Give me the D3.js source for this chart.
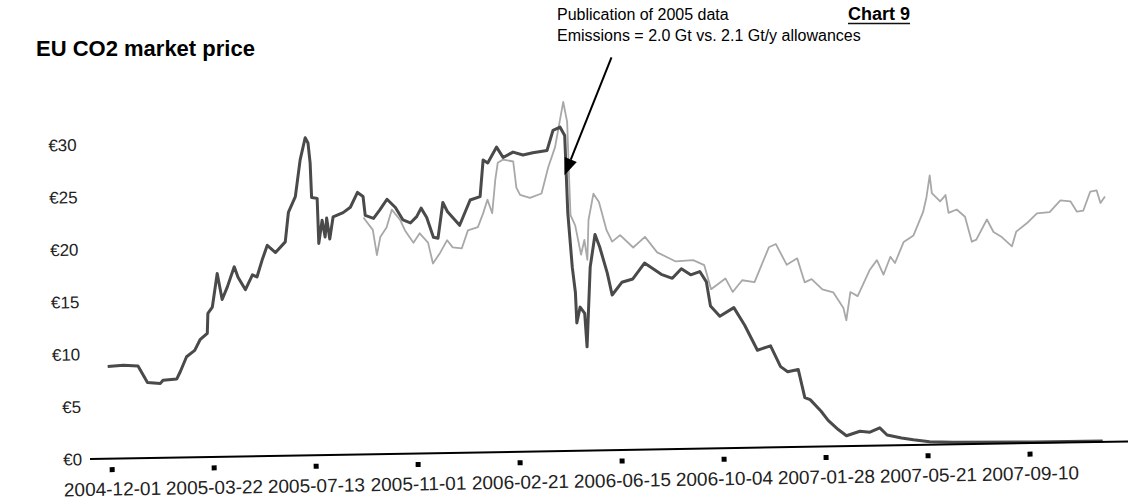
<!DOCTYPE html>
<html>
<head>
<meta charset="utf-8">
<script src="https://cdn.jsdelivr.net/npm/d3@7"></script>
<style>
  body { margin: 0; background: #fff; }
  svg { display: block; font-family: "Liberation Sans", Arial, sans-serif; }
</style>
</head>
<body>
<svg id="chart" width="1128" height="501"></svg>
<script>
'use strict'

// x axis labels (the source axis is one category per trading day, so ticks are evenly spaced)
const tickDates = ['2004-12-01', '2005-03-22', '2005-07-13', '2005-11-01', '2006-02-21',
  '2006-06-15', '2006-10-04', '2007-01-28', '2007-05-21', '2007-09-10']
const yTicks = [0, 5, 10, 15, 20, 25, 30]

// dark line: first-period (2005-07) allowance price, EUR/t
const phase1 = [
  ['2004-11-28', 8.8], ['2004-12-15', 8.9], ['2004-12-31', 8.8], ['2005-01-10', 7.2], ['2005-01-24', 7.1],
  ['2005-01-27', 7.4], ['2005-02-11', 7.5], ['2005-02-15', 8.2], ['2005-02-22', 9.6], ['2005-03-03', 10.2],
  ['2005-03-09', 11.2], ['2005-03-17', 11.8], ['2005-03-18', 13.7], ['2005-03-23', 14.3], ['2005-03-29', 17.5],
  ['2005-04-03', 15.0], ['2005-04-09', 16.2], ['2005-04-17', 18.1], ['2005-04-21', 17.1], ['2005-04-29', 15.9],
  ['2005-05-07', 17.3], ['2005-05-12', 17.1], ['2005-05-18', 18.7], ['2005-05-24', 20.1], ['2005-06-02', 19.4],
  ['2005-06-13', 20.4], ['2005-06-17', 23.2], ['2005-06-25', 24.7], ['2005-07-01', 28.2], ['2005-07-07', 30.3],
  ['2005-07-10', 29.8], ['2005-07-12', 27.9], ['2005-07-13', 24.6], ['2005-07-19', 24.5], ['2005-07-20', 20.2],
  ['2005-07-24', 22.4], ['2005-07-27', 20.8], ['2005-07-29', 22.6], ['2005-08-01', 20.6], ['2005-08-05', 22.7],
  ['2005-08-16', 23.1], ['2005-08-24', 23.6], ['2005-09-01', 25.0], ['2005-09-07', 24.6], ['2005-09-09', 22.8],
  ['2005-09-18', 22.5], ['2005-09-25', 23.3], ['2005-10-03', 24.3], ['2005-10-12', 23.5], ['2005-10-20', 22.3],
  ['2005-10-28', 22.0], ['2005-11-04', 22.6], ['2005-11-09', 23.4], ['2005-11-15', 22.5], ['2005-11-22', 20.6],
  ['2005-11-27', 20.5], ['2005-12-03', 23.9], ['2005-12-08', 23.0], ['2005-12-21', 21.7], ['2006-01-02', 24.1],
  ['2006-01-13', 24.4], ['2006-01-17', 27.9], ['2006-01-22', 27.6], ['2006-02-01', 29.1], ['2006-02-08', 28.1],
  ['2006-02-19', 28.6], ['2006-03-02', 28.3], ['2006-03-13', 28.5], ['2006-03-29', 28.7], ['2006-04-05', 30.6],
  ['2006-04-13', 30.9], ['2006-04-18', 30.1], ['2006-04-20', 22.7], ['2006-04-24', 17.5], ['2006-04-27', 15.1],
  ['2006-04-28', 12.2], ['2006-05-02', 13.7], ['2006-05-07', 13.1], ['2006-05-09', 9.9], ['2006-05-14', 17.5],
  ['2006-05-20', 20.6], ['2006-05-25', 19.4], ['2006-06-02', 16.9], ['2006-06-07', 14.8], ['2006-06-18', 16.0],
  ['2006-06-30', 16.3], ['2006-07-13', 17.8], ['2006-07-31', 16.7], ['2006-08-12', 16.3], ['2006-08-22', 17.2],
  ['2006-09-01', 16.6], ['2006-09-11', 16.9], ['2006-09-18', 15.9], ['2006-09-22', 13.6], ['2006-10-02', 12.6],
  ['2006-10-18', 13.4], ['2006-10-30', 11.7], ['2006-11-13', 9.3], ['2006-11-28', 9.7], ['2006-12-09', 7.7],
  ['2006-12-17', 7.2], ['2006-12-29', 7.4], ['2007-01-05', 4.7], ['2007-01-11', 4.5], ['2007-01-23', 3.4],
  ['2007-01-31', 2.5], ['2007-02-11', 1.6], ['2007-02-20', 1.0], ['2007-03-07', 1.4], ['2007-03-18', 1.3],
  ['2007-03-29', 1.7], ['2007-04-06', 1.0], ['2007-04-22', 0.7], ['2007-05-05', 0.5], ['2007-05-23', 0.3],
  ['2007-06-18', 0.2], ['2007-09-14', 0.1], ['2007-11-29', 0.08]
]

// light line: second-period (2008) allowance price, EUR/t
const phase2 = [
  ['2005-09-07', 22.6], ['2005-09-17', 21.4], ['2005-09-21', 19.0], ['2005-09-25', 20.7], ['2005-10-02', 21.6],
  ['2005-10-08', 23.3], ['2005-10-17', 22.3], ['2005-10-22', 21.3], ['2005-10-31', 20.1], ['2005-11-07', 21.0],
  ['2005-11-16', 20.1], ['2005-11-21', 18.1], ['2005-11-29', 19.1], ['2005-12-07', 20.3], ['2005-12-13', 19.6],
  ['2005-12-23', 19.5], ['2005-12-30', 21.2], ['2006-01-10', 21.5], ['2006-01-16', 22.8], ['2006-01-21', 24.1],
  ['2006-01-26', 22.8], ['2006-01-30', 26.0], ['2006-02-02', 27.6], ['2006-02-08', 27.9], ['2006-02-19', 27.7],
  ['2006-02-22', 25.2], ['2006-02-26', 24.5], ['2006-03-09', 24.2], ['2006-03-22', 24.6], ['2006-03-30', 27.1],
  ['2006-04-07', 29.0], ['2006-04-13', 31.6], ['2006-04-17', 33.3], ['2006-04-21', 31.4], ['2006-04-22', 26.5],
  ['2006-04-23', 22.5], ['2006-04-28', 21.5], ['2006-05-04', 18.7], ['2006-05-08', 20.1], ['2006-05-11', 18.2],
  ['2006-05-13', 22.0], ['2006-05-19', 24.5], ['2006-05-25', 23.7], ['2006-06-02', 21.0], ['2006-06-08', 19.9],
  ['2006-06-17', 20.5], ['2006-07-01', 19.3], ['2006-07-14', 20.3], ['2006-07-27', 18.8], ['2006-08-16', 17.9],
  ['2006-09-04', 18.0], ['2006-09-16', 17.5], ['2006-09-23', 15.2], ['2006-10-09', 16.2], ['2006-10-17', 14.9],
  ['2006-10-28', 16.0], ['2006-11-11', 15.8], ['2006-11-28', 19.1], ['2006-12-06', 19.4], ['2006-12-18', 17.4],
  ['2006-12-30', 18.0], ['2007-01-07', 15.7], ['2007-01-15', 16.0], ['2007-01-27', 15.0], ['2007-02-08', 14.7],
  ['2007-02-19', 13.2], ['2007-02-22', 12.0], ['2007-02-27', 14.7], ['2007-03-07', 14.3], ['2007-03-21', 16.8],
  ['2007-03-29', 17.7], ['2007-04-05', 16.3], ['2007-04-13', 18.0], ['2007-04-18', 17.4], ['2007-04-28', 19.4],
  ['2007-05-09', 20.0], ['2007-05-20', 22.2], ['2007-05-24', 23.6], ['2007-05-28', 25.7], ['2007-05-30', 24.0],
  ['2007-06-08', 23.2], ['2007-06-14', 23.8], ['2007-06-17', 22.1], ['2007-06-26', 22.4], ['2007-07-05', 21.7],
  ['2007-07-12', 19.3], ['2007-07-17', 19.5], ['2007-07-29', 21.4], ['2007-08-05', 20.2], ['2007-08-14', 19.7],
  ['2007-08-25', 18.8], ['2007-08-30', 20.2], ['2007-09-11', 21.0], ['2007-09-22', 21.9], ['2007-10-06', 22.0],
  ['2007-10-18', 23.1], ['2007-10-29', 23.0], ['2007-11-05', 22.0], ['2007-11-12', 22.1], ['2007-11-20', 23.9],
  ['2007-11-27', 24.0], ['2007-12-01', 22.8], ['2007-12-06', 23.4]
]

const titleText = 'EU CO2 market price'
const chartLabel = 'Chart 9'
const noteLines = ['Publication of 2005 data', 'Emissions = 2.0 Gt vs. 2.1 Gt/y allowances']
const noteDate = '2006-04-17'
const noteValue = 26.3

const parse = d3.timeParse('%Y-%m-%d')
const svg = d3.select('#chart')

const origin = {x: 90, y: 459}
const tickStep = 102
const firstTick = 112
const tilt = -0.97   // the scanned page is slightly rotated

const xScale = d3.scaleTime()
  .domain(tickDates.map(parse))
  .range(tickDates.map(function(d, i){ return firstTick + i * tickStep }))
const yScale = d3.scaleLinear().domain([0, 30]).range([origin.y, origin.y - 30 * 10.48])

// text above the plot
svg.append('text').text(titleText)
  .attr('x', 36).attr('y', 56)
  .style('font-size', '22px').style('font-weight', 'bold')

let cl = svg.append('text').text(chartLabel)
  .attr('x', 848).attr('y', 20)
  .style('font-size', '18px').style('font-weight', 'bold')
let clw = cl.node().getComputedTextLength()
svg.append('line').attr('x1', 848).attr('x2', 848 + clw).attr('y1', 23.5).attr('y2', 23.5)
  .attr('stroke', '#111').attr('stroke-width', 1.6)

svg.selectAll('.note').data(noteLines).enter().append('text')
  .attr('class', 'note')
  .attr('x', 557)
  .attr('y', function(d, i){ return 20 + i * 21 })
  .style('font-size', '16px')
  .text(function(d){ return d })

// everything on the plot sits in the tilted group
let plot = svg.append('g').attr('transform', 'rotate(' + tilt + ',' + origin.x + ',' + origin.y + ')')

plot.selectAll('.ylab').data(yTicks).enter().append('text')
  .attr('class', 'ylab')
  .attr('x', 82)
  .attr('y', function(d){ return yScale(d) })
  .attr('dy', '0.36em')
  .attr('text-anchor', 'end')
  .style('font-size', '17px')
  .style('fill', '#222')
  .text(function(d){ return '€' + d })

let line = d3.line()
  .x(function(d){ return xScale(parse(d[0])) })
  .y(function(d){ return yScale(d[1]) })

plot.append('path').datum(phase2)
  .attr('fill', 'none')
  .attr('stroke', '#a8a8a8')
  .attr('stroke-width', 1.8)
  .attr('stroke-linejoin', 'round')
  .attr('d', line)

plot.append('path').datum(phase1)
  .attr('fill', 'none')
  .attr('stroke', '#4a4a4a')
  .attr('stroke-width', 3)
  .attr('stroke-linejoin', 'round')
  .attr('d', line)

// x axis: plain rule, square tick marks below it, date labels
plot.append('line')
  .attr('x1', origin.x).attr('x2', 1140)
  .attr('y1', yScale(0)).attr('y2', yScale(0))
  .attr('stroke', '#000').attr('stroke-width', 2)

plot.selectAll('.tickmark').data(tickDates).enter().append('rect')
  .attr('class', 'tickmark')
  .attr('x', function(d){ return xScale(parse(d)) - 2.5 })
  .attr('y', yScale(0) + 8.5)
  .attr('width', 5).attr('height', 5)
  .attr('fill', '#000')

plot.selectAll('.xlab').data(tickDates).enter().append('text')
  .attr('class', 'xlab')
  .attr('x', function(d){ return xScale(parse(d)) })
  .attr('y', yScale(0) + 37)
  .attr('text-anchor', 'middle')
  .style('font-size', '19px')
  .style('fill', '#222')
  .text(function(d){ return d })

// arrow pointing at the April 2006 drop
let tip = {x: xScale(parse(noteDate)), y: yScale(noteValue)}
let tail = {x: tip.x + 49, y: tip.y - 117}
let ang = Math.atan2(tip.y - tail.y, tip.x - tail.x)
let headLen = 17, headHalf = 6.5
let base = {x: tip.x - headLen * Math.cos(ang), y: tip.y - headLen * Math.sin(ang)}
plot.append('line')
  .attr('x1', tail.x).attr('y1', tail.y).attr('x2', base.x).attr('y2', base.y)
  .attr('stroke', '#000').attr('stroke-width', 2)
plot.append('path')
  .attr('d', 'M' + tip.x + ',' + tip.y +
    'L' + (base.x + headHalf * Math.sin(ang)) + ',' + (base.y - headHalf * Math.cos(ang)) +
    'L' + (base.x - headHalf * Math.sin(ang)) + ',' + (base.y + headHalf * Math.cos(ang)) + 'Z')
  .attr('fill', '#000')
</script>
</body>
</html>
